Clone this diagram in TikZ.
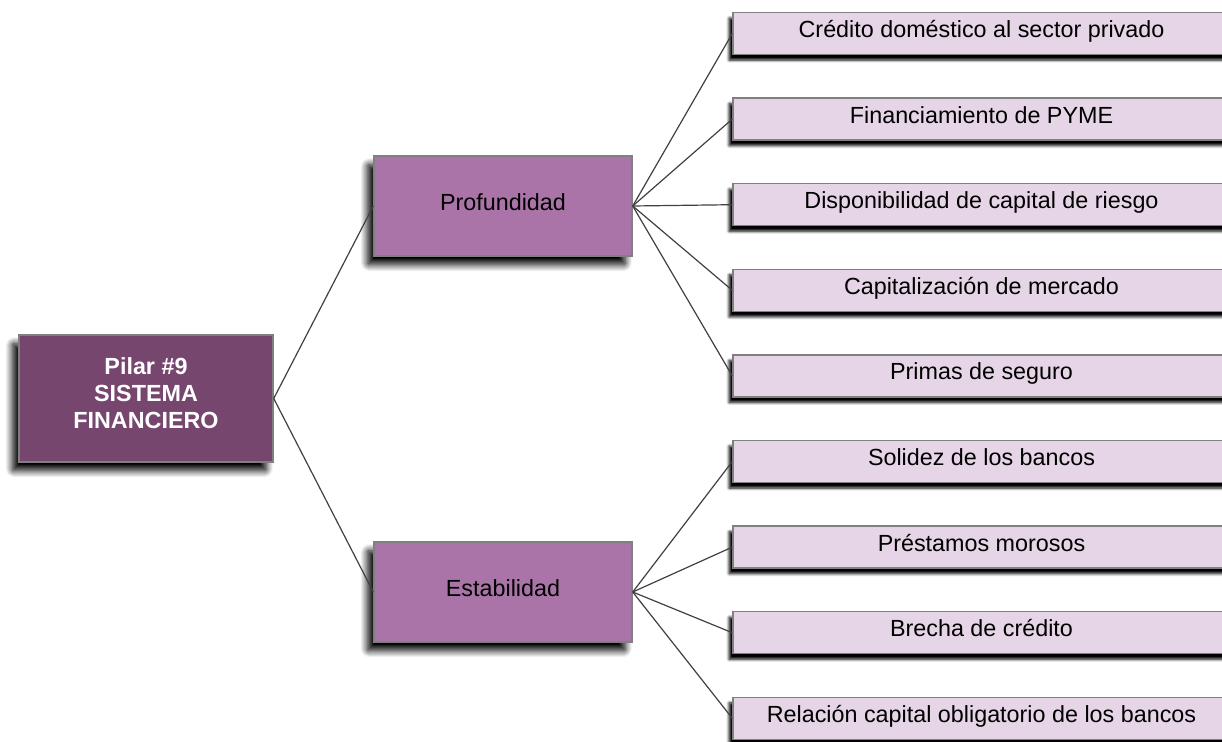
\documentclass[tikz,border=0pt]{standalone}
\usepackage{fontspec}
\setmainfont{Liberation Sans}
\usetikzlibrary{shadows.blur}
\definecolor{rootfill}{HTML}{76466F}
\definecolor{midfill}{HTML}{AB74A8}
\definecolor{leaffill}{HTML}{E6D5E6}
\definecolor{boxline}{HTML}{808080}
\definecolor{linkline}{HTML}{404040}
\begin{document}
\begin{tikzpicture}[x=0.75pt,y=-0.75pt,
  every node/.style={font=\fontsize{17.5pt}{20pt}\selectfont, inner sep=0pt},
  bigshadow/.style={blur shadow={shadow xshift=-5pt, shadow yshift=-6.5pt, shadow blur radius=5pt, shadow blur steps=14, shadow opacity=100, shadow blur extra rounding=1pt}},
  smallshadow/.style={blur shadow={shadow xshift=-3pt, shadow yshift=-4.2pt, shadow blur radius=2pt, shadow blur steps=8, shadow opacity=100}},
  rootbox/.style={draw=boxline, line width=1.1pt, fill=rootfill, minimum width=190.5pt, minimum height=95.25pt, bigshadow},
  rootlabel/.style={text=white, font=\fontsize{17.5pt}{20pt}\selectfont\bfseries, align=center},
  midbox/.style={draw=boxline, line width=1.1pt, fill=midfill, minimum width=193.5pt, minimum height=75pt, text height=12.6pt, text depth=6.6pt, bigshadow},
  leafbox/.style={draw=boxline, line width=1.1pt, fill=leaffill, minimum width=372.75pt, minimum height=31.5pt, text height=12.6pt, text depth=6.6pt, smallshadow},
  link/.style={draw=linkline, line width=0.9pt}
]
\useasboundingbox (0,0) rectangle (1222,742);
\clip (0,0) rectangle (1222,742);

\node[rootbox] (root) at (146,398.5) {};
\node[rootlabel, yshift=4pt] (rootlabel) at (root.center) {Pilar \#9\\SISTEMA\\FINANCIERO};

\node[midbox] (prof) at (503,206) {Profundidad};
\node[midbox] (estab) at (503,592) {Estabilidad};

\node[leafbox] (l1) at (981.5,33.5) {Crédito doméstico al sector privado};
\node[leafbox] (l2) at (981.5,119.1) {Financiamiento de PYME};
\node[leafbox] (l3) at (981.5,204.7) {Disponibilidad de capital de riesgo};
\node[leafbox] (l4) at (981.5,290.3) {Capitalización de mercado};
\node[leafbox] (l5) at (981.5,375.9) {Primas de seguro};
\node[leafbox] (l6) at (981.5,461.5) {Solidez de los bancos};
\node[leafbox] (l7) at (981.5,547.1) {Préstamos morosos};
\node[leafbox] (l8) at (981.5,632.7) {Brecha de crédito};
\node[leafbox] (l9) at (981.5,718.3) {Relación capital obligatorio de los bancos};

\draw[link] (root.east) -- (prof.west);
\draw[link] (root.east) -- (estab.west);
\foreach \l in {l1,l2,l3,l4,l5} \draw[link] (prof.east) -- (\l.west);
\foreach \l in {l6,l7,l8,l9} \draw[link] (estab.east) -- (\l.west);
\end{tikzpicture}
\end{document}
